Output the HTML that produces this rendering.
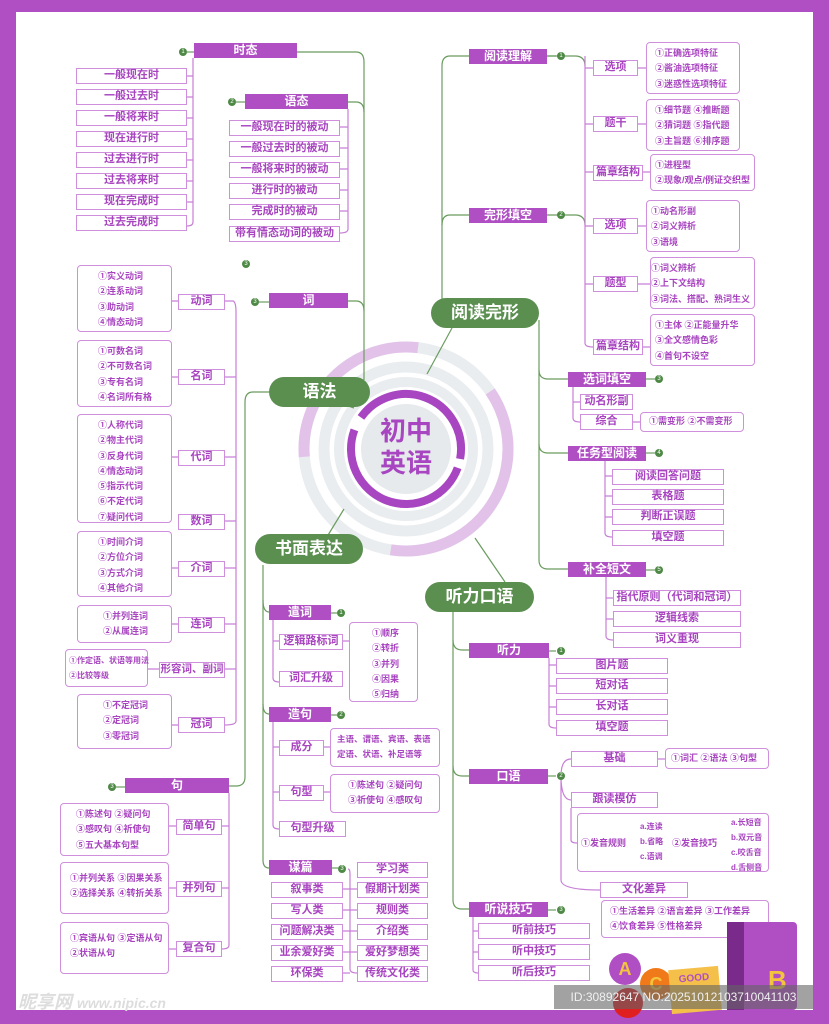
<!DOCTYPE html>
<html><head><meta charset="utf-8">
<style>
body{margin:0;width:829px;height:1024px;overflow:hidden;background:#fff;position:relative;font-family:"Liberation Sans","Noto Sans CJK SC",sans-serif;}
div{position:absolute;box-sizing:border-box;}
.h{background:#b04fc4;color:#fff;font-weight:bold;font-size:12px;text-align:center;line-height:15px;height:15px;}
.b{border:1.5px solid #cf8fdc;color:#a844c0;font-size:11px;text-align:center;background:#fff;height:16px;line-height:13px;font-weight:bold;white-space:nowrap;}
.d{border:1.5px solid #cf8fdc;border-radius:4px;color:#a844c0;font-size:9px;background:#fff;line-height:15.3px;font-weight:bold;white-space:nowrap;padding-top:3px;}
.g{background:#5b8f50;color:#fff;font-size:17px;font-weight:bold;text-align:center;border-radius:16px;height:30px;line-height:30px;}
.o{width:8px;height:8px;border-radius:50%;background:#4e8a45;color:#fff;font-size:6px;line-height:8px;text-align:center;}
</style></head><body>
<div style="left:0;top:0;width:829px;height:12px;background:#b04fc4"></div>
<div style="left:0;top:0;width:16px;height:1024px;background:#b04fc4"></div>
<div style="left:813px;top:0;width:16px;height:1024px;background:#b04fc4"></div>
<div style="left:0;top:1010px;width:829px;height:14px;background:#b04fc4"></div>

<svg style="position:absolute;left:0;top:0" width="829" height="1024">
<g fill="none">
<circle cx="406" cy="449" r="102" stroke="#e9edef" stroke-width="11"/>
<circle cx="406" cy="449" r="102" stroke="#e3c2ea" stroke-width="11" stroke-dasharray="236 137 180 87" transform="rotate(-34 406 449)"/>
<circle cx="406" cy="449" r="82" stroke="#e9edef" stroke-width="11"/>
<circle cx="406" cy="449" r="67" stroke="#e9edef" stroke-width="10"/>
<circle cx="406" cy="449" r="55" stroke="#a845c1" stroke-width="8" stroke-dasharray="173 14 149 10" transform="rotate(20 406 449)"/>
</g>
<circle cx="406" cy="449" r="45" fill="#e6eaec"/>
<g stroke="#6a9c5f" stroke-width="1.2" fill="none">
<path d="M297 52 H356 Q364 52 364 62 V380"/>
<path d="M348 102 H356 Q364 102 364 112"/>
<path d="M348 301 H356 Q364 301 364 311"/>
<path d="M269 392 H253 Q245 392 245 402 V777 Q245 786 236 786 H229"/>
<path d="M263 565 V860 Q263 868 269 868"/>
<path d="M263 600 Q263 612 269 612"/><path d="M263 704 Q263 714 269 714"/>
<path d="M469 56 H450 Q442 56 442 66 V300"/>
<path d="M469 215 H450 Q442 215 442 225"/>
<path d="M547 56 H575 Q585 56 585 66"/><path d="M547 215 H575 Q585 215 585 225"/>
<path d="M539 320 V560 Q539 569 548 569 H568"/>
<path d="M539 370 Q539 379 548 379 H568"/><path d="M539 444 Q539 453 548 453 H568"/>
<path d="M453 612 V900 Q453 909 462 909 H469"/>
<path d="M453 640 Q453 650 462 650 H469"/><path d="M453 766 Q453 776 462 776 H469"/>
<path d="M354 408 L326 398"/><path d="M344 509 L325 540"/><path d="M475 538 L505 582"/><path d="M427 374 L452 328"/>
<path d="M549 651 H556"/><path d="M548 776 H556"/><path d="M548 910 H556"/><path d="M646 379 H655"/><path d="M646 453 H655"/><path d="M646 570 H655"/><path d="M547 56 H556"/><path d="M331 613 H337"/><path d="M331 715 H337"/><path d="M332 868 H338"/><path d="M187 52 H194"/><path d="M236 102 H245"/><path d="M259 302 H269"/><path d="M116 787 H125"/>
</g>
<g stroke="#c77fd6" stroke-width="1.2" fill="none">
<path d="M193 58 V222 Q193 226 187 226"/>
<path d="M187 76 H193 M187 97 H193 M187 118 H193 M187 139 H193 M187 160 H193 M187 181 H193 M187 202 H193"/>
<path d="M348 109 V229 Q348 233 340 233"/>
<path d="M340 127 H348 M340 148 H348 M340 169 H348 M340 190 H348 M340 211 H348"/>
<path d="M225 301 H233 Q236 302 236 312 V721 Q236 725 225 725"/>
<path d="M225 377 H236 M225 457 H236 M225 521 H236 M225 568 H236 M225 624 H236 M225 669 H236"/>
<path d="M172 301 H178 M172 377 H178 M172 457 H178 M172 568 H178 M172 624 H178 M148 669 H159 M172 725 H178"/>
<path d="M229 793 V945 Q229 949 222 949 M222 826 H229 M222 888 H229 M169 826 H176 M169 888 H176 M169 949 H176"/>
<path d="M273 620 V678 Q273 682 279 682 M273 641 H279 M343 641 H349"/>
<path d="M273 722 V825 Q273 829 279 829 M273 747 H279 M273 792 H279 M324 747 H330 M324 792 H330"/>
<path d="M348 869 Q350 869 350 874 V969 Q350 973 357 973 M343 889 H357 M343 910 H357 M343 931 H357 M343 952 H357 M343 973 H350"/>
<path d="M585 56 V343 Q585 347 593 347 M585 68 H593 M585 124 H593 M585 172 H593 M585 226 H593 M585 284 H593 M638 68 H646 M638 124 H646 M643 172 H650 M638 226 H646 M638 284 H650 M643 347 H650"/>
<path d="M573 386 V418 Q573 422 580 422 M573 402 H580 M633 422 H640"/>
<path d="M605 460 V533 Q605 537 612 537 M605 476 H612 M605 496 H612 M605 517 H612"/>
<path d="M606 577 V636 Q606 640 613 640 M606 598 H613 M606 619 H613"/>
<path d="M549 658 V724 Q549 728 556 728 M549 665 H556 M549 686 H556 M549 707 H556"/>
<path d="M561 776 Q561 759 571 759 M561 776 Q561 800 571 800 M561 776 V880 Q561 890 600 890 M658 759 H665 M571 808 V840 Q571 843 577 843"/>
<path d="M473 917 V970 Q473 973 478 973 M473 931 H478 M473 952 H478"/>
</g>
</svg>

<div style="left:348px;top:415px;width:116px;text-align:center;color:#a845c1;font-size:26px;font-weight:bold;line-height:32px">初中<br>英语</div>

<div class="g" style="left:269px;top:377px;width:101px">语法</div>
<div class="g" style="left:255px;top:534px;width:108px">书面表达</div>
<div class="g" style="left:431px;top:298px;width:108px">阅读完形</div>
<div class="g" style="left:425px;top:582px;width:109px">听力口语</div>

<div class="o" style="left:179px;top:48px">1</div>
<div class="h" style="left:194px;top:43px;width:103px">时态</div>
<div class="b" style="left:76px;top:68px;width:111px">一般现在时</div>
<div class="b" style="left:76px;top:89px;width:111px">一般过去时</div>
<div class="b" style="left:76px;top:110px;width:111px">一般将来时</div>
<div class="b" style="left:76px;top:131px;width:111px">现在进行时</div>
<div class="b" style="left:76px;top:152px;width:111px">过去进行时</div>
<div class="b" style="left:76px;top:173px;width:111px">过去将来时</div>
<div class="b" style="left:76px;top:194px;width:111px">现在完成时</div>
<div class="b" style="left:76px;top:215px;width:111px">过去完成时</div>
<div class="o" style="left:228px;top:98px">2</div>
<div class="h" style="left:245px;top:94px;width:103px">语态</div>
<div class="b" style="left:229px;top:120px;width:111px">一般现在时的被动</div>
<div class="b" style="left:229px;top:141px;width:111px">一般过去时的被动</div>
<div class="b" style="left:229px;top:162px;width:111px">一般将来时的被动</div>
<div class="b" style="left:229px;top:183px;width:111px">进行时的被动</div>
<div class="b" style="left:229px;top:204px;width:111px">完成时的被动</div>
<div class="b" style="left:229px;top:226px;width:111px">带有情态动词的被动</div>
<div class="o" style="left:242px;top:260px">3</div>

<div class="o" style="left:251px;top:298px">3</div>
<div class="h" style="left:269px;top:293px;width:79px">词</div>
<div class="b" style="left:178px;top:294px;width:47px">动词</div>
<div class="d" style="left:77px;top:265px;width:95px;height:67px;padding-left:20px">①实义动词<br>②连系动词<br>③助动词<br>④情态动词</div>
<div class="b" style="left:178px;top:369px;width:47px">名词</div>
<div class="d" style="left:77px;top:340px;width:95px;height:67px;padding-left:20px">①可数名词<br>②不可数名词<br>③专有名词<br>④名词所有格</div>
<div class="b" style="left:178px;top:450px;width:47px">代词</div>
<div class="d" style="left:77px;top:414px;width:95px;height:109px;padding-left:20px">①人称代词<br>②物主代词<br>③反身代词<br>④情态动词<br>⑤指示代词<br>⑥不定代词<br>⑦疑问代词</div>
<div class="b" style="left:178px;top:514px;width:47px">数词</div>
<div class="b" style="left:178px;top:561px;width:47px">介词</div>
<div class="d" style="left:77px;top:531px;width:95px;height:66px;padding-left:20px">①时间介词<br>②方位介词<br>③方式介词<br>④其他介词</div>
<div class="b" style="left:178px;top:617px;width:47px">连词</div>
<div class="d" style="left:77px;top:605px;width:95px;height:38px;padding-left:25px">①并列连词<br>②从属连词</div>
<div class="b" style="left:159px;top:662px;width:66px;font-size:10.5px">形容词、副词</div>
<div class="d" style="left:65px;top:649px;width:83px;height:38px;padding-left:3px;font-size:8px">①作定语、状语等用法<br>②比较等级</div>
<div class="b" style="left:178px;top:717px;width:47px">冠词</div>
<div class="d" style="left:77px;top:694px;width:95px;height:55px;padding-left:25px">①不定冠词<br>②定冠词<br>③零冠词</div>

<div class="o" style="left:108px;top:783px">3</div>
<div class="h" style="left:125px;top:778px;width:104px">句</div>
<div class="b" style="left:176px;top:819px;width:46px">简单句</div>
<div class="d" style="left:60px;top:803px;width:109px;height:53px;padding-left:15px">①陈述句 ②疑问句<br>③感叹句 ④祈使句<br>⑤五大基本句型</div>
<div class="b" style="left:176px;top:881px;width:46px">并列句</div>
<div class="d" style="left:60px;top:862px;width:109px;height:52px;padding-left:9px;padding-top:8px">①并列关系 ③因果关系<br>②选择关系 ④转折关系</div>
<div class="b" style="left:176px;top:941px;width:46px">复合句</div>
<div class="d" style="left:60px;top:922px;width:109px;height:52px;padding-left:9px;padding-top:8px">①宾语从句 ③定语从句<br>②状语从句</div>

<div class="h" style="left:269px;top:605px;width:62px">遣词</div>
<div class="o" style="left:337px;top:609px">1</div>
<div class="b" style="left:279px;top:634px;width:64px">逻辑路标词</div>
<div class="b" style="left:279px;top:671px;width:64px">词汇升级</div>
<div class="d" style="left:349px;top:622px;width:69px;height:80px;padding-left:22px">①顺序<br>②转折<br>③并列<br>④因果<br>⑤归纳</div>
<div class="h" style="left:269px;top:707px;width:62px">造句</div>
<div class="o" style="left:337px;top:711px">2</div>
<div class="b" style="left:279px;top:740px;width:45px">成分</div>
<div class="d" style="left:330px;top:728px;width:110px;height:39px;padding-left:6px;font-size:8.5px">主语、谓语、宾语、表语<br>定语、状语、补足语等</div>
<div class="b" style="left:279px;top:785px;width:45px">句型</div>
<div class="d" style="left:330px;top:774px;width:110px;height:39px;padding-left:17px">①陈述句 ②疑问句<br>③祈使句 ④感叹句</div>
<div class="b" style="left:279px;top:821px;width:67px">句型升级</div>
<div class="h" style="left:269px;top:860px;width:63px">谋篇</div>
<div class="o" style="left:338px;top:865px">3</div>
<div class="b" style="left:271px;top:882px;width:72px">叙事类</div>
<div class="b" style="left:271px;top:903px;width:72px">写人类</div>
<div class="b" style="left:271px;top:924px;width:72px">问题解决类</div>
<div class="b" style="left:271px;top:945px;width:72px">业余爱好类</div>
<div class="b" style="left:271px;top:966px;width:72px">环保类</div>
<div class="b" style="left:357px;top:862px;width:71px">学习类</div>
<div class="b" style="left:357px;top:882px;width:71px">假期计划类</div>
<div class="b" style="left:357px;top:903px;width:71px">规则类</div>
<div class="b" style="left:357px;top:924px;width:71px">介绍类</div>
<div class="b" style="left:357px;top:945px;width:71px">爱好梦想类</div>
<div class="b" style="left:357px;top:966px;width:71px">传统文化类</div>

<div class="h" style="left:469px;top:49px;width:78px">阅读理解</div>
<div class="o" style="left:557px;top:52px">1</div>
<div class="h" style="left:469px;top:208px;width:78px">完形填空</div>
<div class="o" style="left:557px;top:211px">2</div>
<div class="b" style="left:593px;top:60px;width:45px">选项</div>
<div class="d" style="left:646px;top:42px;width:94px;height:52px;padding-left:8px">①正确选项特征<br>②酱油选项特征<br>③迷惑性选项特征</div>
<div class="b" style="left:593px;top:116px;width:45px">题干</div>
<div class="d" style="left:646px;top:99px;width:94px;height:52px;padding-left:8px">①细节题 ④推断题<br>②猜词题 ⑤指代题<br>③主旨题 ⑥排序题</div>
<div class="b" style="left:593px;top:165px;width:50px">篇章结构</div>
<div class="d" style="left:650px;top:154px;width:105px;height:37px;padding-left:4px">①进程型<br>②现象/观点/例证交织型</div>
<div class="b" style="left:593px;top:218px;width:45px">选项</div>
<div class="d" style="left:646px;top:200px;width:94px;height:52px;padding-left:4px">①动名形副<br>②词义辨析<br>③语境</div>
<div class="b" style="left:593px;top:276px;width:45px">题型</div>
<div class="d" style="left:650px;top:257px;width:105px;height:52px;padding-left:0">①词义辨析<br>②上下文结构<br>③词法、搭配、熟词生义</div>
<div class="b" style="left:593px;top:339px;width:50px">篇章结构</div>
<div class="d" style="left:650px;top:314px;width:105px;height:52px;padding-left:4px">①主体 ②正能量升华<br>③全文感情色彩<br>④首句不设空</div>

<div class="h" style="left:568px;top:372px;width:78px">选词填空</div>
<div class="o" style="left:655px;top:375px">3</div>
<div class="b" style="left:580px;top:394px;width:53px">动名形副</div>
<div class="b" style="left:580px;top:414px;width:53px">综合</div>
<div class="d" style="left:640px;top:412px;width:104px;height:20px;padding:0 0 0 8px;line-height:17px">①需变形 ②不需变形</div>
<div class="h" style="left:568px;top:446px;width:78px">任务型阅读</div>
<div class="o" style="left:655px;top:449px">4</div>
<div class="b" style="left:612px;top:469px;width:112px">阅读回答问题</div>
<div class="b" style="left:612px;top:489px;width:112px">表格题</div>
<div class="b" style="left:612px;top:509px;width:112px">判断正误题</div>
<div class="b" style="left:612px;top:530px;width:112px">填空题</div>
<div class="h" style="left:568px;top:562px;width:78px">补全短文</div>
<div class="o" style="left:655px;top:566px">5</div>
<div class="b" style="left:613px;top:590px;width:128px">指代原则（代词和冠词）</div>
<div class="b" style="left:613px;top:611px;width:128px">逻辑线索</div>
<div class="b" style="left:613px;top:632px;width:128px">词义重现</div>

<div class="h" style="left:469px;top:643px;width:80px">听力</div>
<div class="o" style="left:557px;top:647px">1</div>
<div class="b" style="left:556px;top:658px;width:112px">图片题</div>
<div class="b" style="left:556px;top:678px;width:112px">短对话</div>
<div class="b" style="left:556px;top:699px;width:112px">长对话</div>
<div class="b" style="left:556px;top:720px;width:112px">填空题</div>
<div class="h" style="left:469px;top:769px;width:79px">口语</div>
<div class="o" style="left:557px;top:772px">2</div>
<div class="b" style="left:571px;top:751px;width:87px">基础</div>
<div class="d" style="left:665px;top:748px;width:104px;height:21px;padding:0 0 0 5px;line-height:18px">①词汇 ②语法 ③句型</div>
<div class="b" style="left:571px;top:792px;width:87px">跟读模仿</div>
<div class="d" style="left:577px;top:813px;width:192px;height:59px;padding:0"></div>
<div style="left:581px;top:836px;color:#a844c0;font-size:9px;font-weight:bold">①发音规则</div>
<div style="left:640px;top:819px;color:#a844c0;font-size:8px;font-weight:bold;line-height:15px">a.连读<br>b.省略<br>c.语调</div>
<div style="left:672px;top:836px;color:#a844c0;font-size:9px;font-weight:bold">②发音技巧</div>
<div style="left:731px;top:815px;color:#a844c0;font-size:8px;font-weight:bold;line-height:15px">a.长短音<br>b.双元音<br>c.咬舌音<br>d.舌侧音</div>
<div class="b" style="left:600px;top:882px;width:88px">文化差异</div>
<div class="d" style="left:601px;top:900px;width:168px;height:38px;padding-left:8px">①生活差异 ②语言差异 ③工作差异<br>④饮食差异 ⑤性格差异</div>
<div class="h" style="left:469px;top:902px;width:79px">听说技巧</div>
<div class="o" style="left:557px;top:906px">3</div>
<div class="b" style="left:478px;top:923px;width:112px">听前技巧</div>
<div class="b" style="left:478px;top:944px;width:112px">听中技巧</div>
<div class="b" style="left:478px;top:965px;width:112px">听后技巧</div>

<div style="left:727px;top:922px;width:70px;height:88px;background:#b04fc4;border-radius:4px"></div>
<div style="left:727px;top:922px;width:17px;height:88px;background:#7a2a8a"></div>
<div style="left:768px;top:965px;color:#f2c53d;font-size:26px;font-weight:bold">B</div>
<div style="left:609px;top:953px;width:32px;height:32px;border-radius:50%;background:#b04fc4;color:#f2c53d;font-size:18px;font-weight:bold;text-align:center;line-height:32px">A</div>
<div style="left:640px;top:968px;width:32px;height:32px;border-radius:50%;background:#f07a1a;color:#f2c53d;font-size:18px;font-weight:bold;text-align:center;line-height:32px">C</div>
<div style="left:613px;top:988px;width:30px;height:30px;border-radius:50%;background:#e02020"></div>
<div style="left:670px;top:968px;width:50px;height:44px;background:#f5c04a;transform:rotate(-5deg);color:#b04fc4;font-size:10px;font-weight:bold;text-align:center;padding-top:5px">GOOD</div>
<div style="left:554px;top:985px;width:259px;height:24px;background:rgba(100,100,100,0.6);color:#f0f0f0;font-size:12px;line-height:24px;text-align:center">ID:30892647 NO:20251012103710041103</div>
<div style="left:18px;top:988px;color:#ddd;font-size:18px;font-style:italic;font-weight:bold">昵享网 <span style="font-size:14px">www.nipic.cn</span></div>
</body></html>
